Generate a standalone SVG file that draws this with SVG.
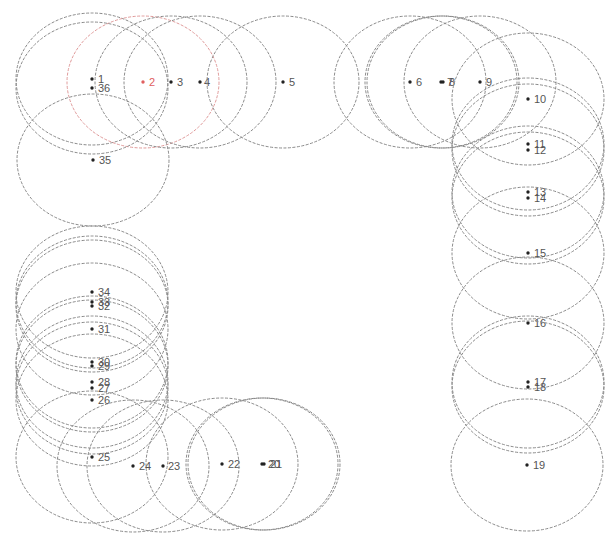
<svg xmlns="http://www.w3.org/2000/svg" width="605" height="534" viewBox="0 0 605 534">
<style>
.r{fill:none;stroke:#8a8a8a;stroke-width:1;stroke-dasharray:3 1.5;}
.red{stroke:#e09a9a;}
.d{fill:#222;}
.t{font-family:"Liberation Sans",Arial,sans-serif;font-size:11px;fill:#555;}
.tr{fill:#e06060;}
</style>
<rect width="605" height="534" fill="#fff"/>
<g id="n1"><ellipse class="r" cx="92" cy="79" rx="76" ry="66"/><circle class="d" cx="92" cy="79" r="1.7"/><text class="t" x="98" y="83">1</text></g>
<g id="n2"><ellipse class="r red" cx="143" cy="82" rx="76" ry="66"/><circle class="d" cx="143" cy="82" r="1.7" style="fill:#e06060"/><text class="t tr" x="149" y="86">2</text></g>
<g id="n3"><ellipse class="r" cx="171" cy="82" rx="76" ry="66"/><circle class="d" cx="171" cy="82" r="1.7"/><text class="t" x="177" y="86">3</text></g>
<g id="n4"><ellipse class="r" cx="200" cy="82" rx="76" ry="66"/><circle class="d" cx="200" cy="82" r="1.7"/><text class="t" x="204" y="86">4</text></g>
<g id="n5"><ellipse class="r" cx="283" cy="82" rx="76" ry="66"/><circle class="d" cx="283" cy="82" r="1.7"/><text class="t" x="289" y="86">5</text></g>
<g id="n6"><ellipse class="r" cx="410" cy="82" rx="76" ry="66"/><circle class="d" cx="410" cy="82" r="1.7"/><text class="t" x="416" y="86">6</text></g>
<g id="n7"><ellipse class="r" cx="441" cy="82" rx="76" ry="66"/><circle class="d" cx="441" cy="82" r="1.7"/><text class="t" x="447" y="86">7</text></g>
<g id="n8"><ellipse class="r" cx="443" cy="82" rx="76" ry="66"/><circle class="d" cx="443" cy="82" r="1.7"/><text class="t" x="449" y="86">8</text></g>
<g id="n9"><ellipse class="r" cx="480" cy="82" rx="76" ry="66"/><circle class="d" cx="480" cy="82" r="1.7"/><text class="t" x="486" y="86">9</text></g>
<g id="n10"><ellipse class="r" cx="528" cy="99" rx="76" ry="66"/><circle class="d" cx="528" cy="99" r="1.7"/><text class="t" x="534" y="103">10</text></g>
<g id="n11"><ellipse class="r" cx="528" cy="144" rx="76" ry="66"/><circle class="d" cx="528" cy="144" r="1.7"/><text class="t" x="534" y="148">11</text></g>
<g id="n12"><ellipse class="r" cx="528" cy="150" rx="76" ry="66"/><circle class="d" cx="528" cy="150" r="1.7"/><text class="t" x="534" y="154">12</text></g>
<g id="n13"><ellipse class="r" cx="528" cy="192" rx="76" ry="66"/><circle class="d" cx="528" cy="192" r="1.7"/><text class="t" x="534" y="196">13</text></g>
<g id="n14"><ellipse class="r" cx="528" cy="198" rx="76" ry="66"/><circle class="d" cx="528" cy="198" r="1.7"/><text class="t" x="534" y="202">14</text></g>
<g id="n15"><ellipse class="r" cx="528" cy="253" rx="76" ry="66"/><circle class="d" cx="528" cy="253" r="1.7"/><text class="t" x="534" y="257">15</text></g>
<g id="n16"><ellipse class="r" cx="528" cy="323" rx="76" ry="66"/><circle class="d" cx="528" cy="323" r="1.7"/><text class="t" x="534" y="327">16</text></g>
<g id="n17"><ellipse class="r" cx="528" cy="382" rx="76" ry="66"/><circle class="d" cx="528" cy="382" r="1.7"/><text class="t" x="534" y="386">17</text></g>
<g id="n18"><ellipse class="r" cx="528" cy="387" rx="76" ry="66"/><circle class="d" cx="528" cy="387" r="1.7"/><text class="t" x="534" y="391">18</text></g>
<g id="n19"><ellipse class="r" cx="527" cy="465" rx="76" ry="66"/><circle class="d" cx="527" cy="465" r="1.7"/><text class="t" x="533" y="469">19</text></g>
<g id="n20"><ellipse class="r" cx="262" cy="464" rx="76" ry="66"/><circle class="d" cx="262" cy="464" r="1.7"/><text class="t" x="268" y="468">20</text></g>
<g id="n21"><ellipse class="r" cx="264" cy="464" rx="76" ry="66"/><circle class="d" cx="264" cy="464" r="1.7"/><text class="t" x="270" y="468">21</text></g>
<g id="n22"><ellipse class="r" cx="222" cy="464" rx="76" ry="66"/><circle class="d" cx="222" cy="464" r="1.7"/><text class="t" x="228" y="468">22</text></g>
<g id="n23"><ellipse class="r" cx="163" cy="466" rx="76" ry="66"/><circle class="d" cx="163" cy="466" r="1.7"/><text class="t" x="168" y="470">23</text></g>
<g id="n24"><ellipse class="r" cx="133" cy="466" rx="76" ry="66"/><circle class="d" cx="133" cy="466" r="1.7"/><text class="t" x="139" y="470">24</text></g>
<g id="n25"><ellipse class="r" cx="92" cy="457" rx="76" ry="66"/><circle class="d" cx="92" cy="457" r="1.7"/><text class="t" x="98" y="461">25</text></g>
<g id="n26"><ellipse class="r" cx="92" cy="400" rx="76" ry="66"/><circle class="d" cx="92" cy="400" r="1.7"/><text class="t" x="98" y="404">26</text></g>
<g id="n27"><ellipse class="r" cx="92" cy="388" rx="76" ry="66"/><circle class="d" cx="92" cy="388" r="1.7"/><text class="t" x="98" y="392">27</text></g>
<g id="n28"><ellipse class="r" cx="92" cy="382" rx="76" ry="66"/><circle class="d" cx="92" cy="382" r="1.7"/><text class="t" x="98" y="386">28</text></g>
<g id="n29"><ellipse class="r" cx="92" cy="366" rx="76" ry="66"/><circle class="d" cx="92" cy="366" r="1.7"/><text class="t" x="98" y="370">29</text></g>
<g id="n30"><ellipse class="r" cx="92" cy="362" rx="76" ry="66"/><circle class="d" cx="92" cy="362" r="1.7"/><text class="t" x="98" y="366">30</text></g>
<g id="n31"><ellipse class="r" cx="92" cy="329" rx="76" ry="66"/><circle class="d" cx="92" cy="329" r="1.7"/><text class="t" x="98" y="333">31</text></g>
<g id="n32"><ellipse class="r" cx="92" cy="306" rx="76" ry="66"/><circle class="d" cx="92" cy="306" r="1.7"/><text class="t" x="98" y="310">32</text></g>
<g id="n33"><ellipse class="r" cx="92" cy="302" rx="76" ry="66"/><circle class="d" cx="92" cy="302" r="1.7"/><text class="t" x="98" y="306">33</text></g>
<g id="n34"><ellipse class="r" cx="92" cy="292" rx="76" ry="66"/><circle class="d" cx="92" cy="292" r="1.7"/><text class="t" x="98" y="296">34</text></g>
<g id="n35"><ellipse class="r" cx="93" cy="160" rx="76" ry="66"/><circle class="d" cx="93" cy="160" r="1.7"/><text class="t" x="99" y="164">35</text></g>
<g id="n36"><ellipse class="r" cx="92" cy="88" rx="76" ry="66"/><circle class="d" cx="92" cy="88" r="1.7"/><text class="t" x="98" y="92">36</text></g>
</svg>
